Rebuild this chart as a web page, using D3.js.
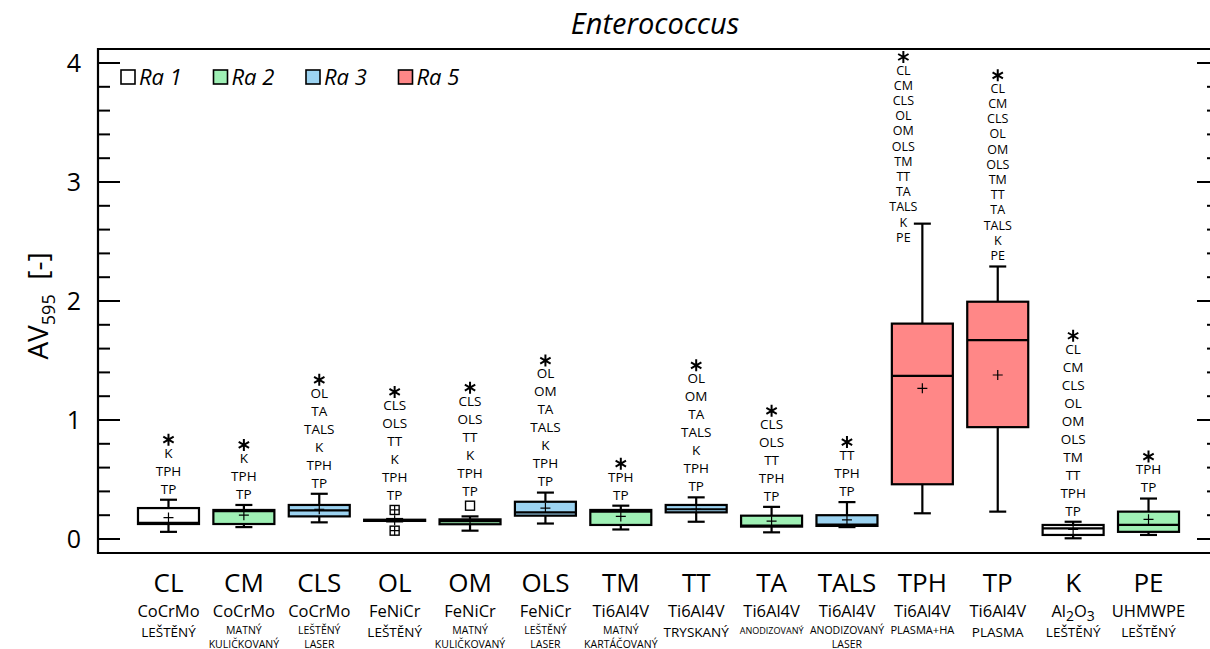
<!DOCTYPE html>
<html>
<head>
<meta charset="utf-8">
<script src="https://cdn.jsdelivr.net/npm/d3@7"></script>
<style>
  html, body { margin: 0; padding: 0; background: #fff; overflow: hidden; }
  svg { display: block; font-family: "Open Sans", "Noto Sans", sans-serif; }
</style>
</head>
<body>
<svg id="chart" width="1210" height="649"></svg>
<script>
// ---- data ----
const categories = ["CL", "CM", "CLS", "OL", "OM", "OLS", "TM", "TT", "TA", "TALS", "TPH", "TP", "K", "PE"];
const materials = ["CoCrMo", "CoCrMo", "CoCrMo", "FeNiCr", "FeNiCr", "FeNiCr", "Ti6Al4V", "Ti6Al4V",
                   "Ti6Al4V", "Ti6Al4V", "Ti6Al4V", "Ti6Al4V", "Al2O3", "UHMWPE"];
const finishes = [["LEŠTĚNÝ"], ["MATNÝ", "KULIČKOVANÝ"], ["LEŠTĚNÝ", "LASER"], ["LEŠTĚNÝ"],
                  ["MATNÝ", "KULIČKOVANÝ"], ["LEŠTĚNÝ", "LASER"], ["MATNÝ", "KARTÁČOVANÝ"], ["TRYSKANÝ"],
                  ["ANODIZOVANÝ"], ["ANODIZOVANÝ", "LASER"], ["PLASMA+HA"], ["PLASMA"], ["LEŠTĚNÝ"], ["LEŠTĚNÝ"]];
const roughness = ["Ra 1", "Ra 2", "Ra 3", "Ra 1", "Ra 2", "Ra 3", "Ra 2", "Ra 3", "Ra 2", "Ra 3", "Ra 5", "Ra 5", "Ra 1", "Ra 2"];

const whiskerLow  = [0.060, 0.100, 0.140, 0.148, 0.070, 0.130, 0.080, 0.145, 0.056, 0.100, 0.216, 0.230, 0.006, 0.034];
const q1          = [0.126, 0.126, 0.190, 0.152, 0.124, 0.196, 0.118, 0.224, 0.104, 0.110, 0.460, 0.940, 0.034, 0.060];
const median      = [0.135, 0.235, 0.240, 0.157, 0.150, 0.224, 0.230, 0.250, 0.112, 0.120, 1.370, 1.672, 0.090, 0.118];
const q3          = [0.260, 0.244, 0.286, 0.162, 0.165, 0.313, 0.244, 0.286, 0.196, 0.200, 1.810, 1.994, 0.118, 0.230];
const whiskerHigh = [0.330, 0.286, 0.380, 0.168, 0.190, 0.390, 0.280, 0.350, 0.270, 0.310, 2.650, 2.290, 0.145, 0.340];
const means       = [0.180, 0.200, 0.250, 0.157, 0.150, 0.260, 0.190, 0.250, 0.150, 0.160, 1.266, 1.378, 0.080, 0.165];
// single points drawn beyond the whiskers
const extremes = [[], [], [], [0.244, 0.070], [], [], [], [], [], [], [], [], [], []];
const outliers = [[], [], [], [], [0.280], [], [], [], [], [], [], [], [], []];

// groups that differ significantly from each surface
const differsFrom = [
  ["K", "TPH", "TP"],
  ["K", "TPH", "TP"],
  ["OL", "TA", "TALS", "K", "TPH", "TP"],
  ["CLS", "OLS", "TT", "K", "TPH", "TP"],
  ["CLS", "OLS", "TT", "K", "TPH", "TP"],
  ["OL", "OM", "TA", "TALS", "K", "TPH", "TP"],
  ["TPH", "TP"],
  ["OL", "OM", "TA", "TALS", "K", "TPH", "TP"],
  ["CLS", "OLS", "TT", "TPH", "TP"],
  ["TT", "TPH", "TP"],
  ["CL", "CM", "CLS", "OL", "OM", "OLS", "TM", "TT", "TA", "TALS", "K", "PE"],
  ["CL", "CM", "CLS", "OL", "OM", "OLS", "TM", "TT", "TA", "TALS", "K", "PE"],
  ["CL", "CM", "CLS", "OL", "OM", "OLS", "TM", "TT", "TPH", "TP"],
  ["TPH", "TP"]
];

const roughnessLevels = ["Ra 1", "Ra 2", "Ra 3", "Ra 5"];
const roughnessColors = ["#ffffff", "#9ff0b5", "#9cd3f1", "#ff8787"];
const yTicks = [0, 1, 2, 3, 4];

// ---- layout ----
const svg = d3.select("#chart");
const frame = { left: 98, right: 1219, top: 49, bottom: 553 };

const x = d3.scalePoint().domain(categories).range([frame.left, frame.right]).padding(0.935);
const y = d3.scaleLinear().domain([0, 4]).range([539, 63]);
const fill = d3.scaleOrdinal().domain(roughnessLevels).range(roughnessColors);

const boxW = 61, capW = 17;

// title
svg.append("text")
  .attr("x", 655).attr("y", 34)
  .attr("text-anchor", "middle")
  .attr("font-size", 29).attr("font-style", "italic")
  .text("Enterococcus");

// frame lines (right edge runs past the page)
svg.append("path")
  .attr("d", `M${frame.right},${frame.top}H${frame.left}V${frame.bottom}H${frame.right}`)
  .attr("fill", "none").attr("stroke", "#000").attr("stroke-width", 2.2);

// y axes: ticks pointing inward on both sides
const minorTicks = d3.range(0, 4.01, 0.2).filter(v => Math.abs(v - Math.round(v)) > 1e-6);
const leftAxis = svg.append("g").attr("transform", `translate(${frame.left},0)`);
leftAxis.selectAll("line.major").data(yTicks).join("line")
  .attr("x1", 0).attr("x2", 22).attr("y1", d => y(d)).attr("y2", d => y(d))
  .attr("stroke", "#000").attr("stroke-width", 2);
leftAxis.selectAll("line.minor").data(minorTicks).join("line")
  .attr("x1", 0).attr("x2", 12).attr("y1", d => y(d)).attr("y2", d => y(d))
  .attr("stroke", "#000").attr("stroke-width", 2);
leftAxis.selectAll("text").data(yTicks).join("text")
  .attr("x", -17).attr("y", d => y(d)).attr("dy", "0.36em")
  .attr("text-anchor", "end").attr("font-size", 25)
  .text(d3.format("d"));

const rightAxis = svg.append("g").attr("transform", `translate(${frame.right},0)`);
rightAxis.selectAll("line.major").data(yTicks).join("line")
  .attr("x1", 0).attr("x2", -22).attr("y1", d => y(d)).attr("y2", d => y(d))
  .attr("stroke", "#000").attr("stroke-width", 2);
rightAxis.selectAll("line.minor").data(minorTicks).join("line")
  .attr("x1", 0).attr("x2", -12).attr("y1", d => y(d)).attr("y2", d => y(d))
  .attr("stroke", "#000").attr("stroke-width", 2);

// y-axis title
const yTitle = svg.append("text")
  .attr("transform", "translate(48,306) rotate(-90)")
  .attr("text-anchor", "middle").attr("font-size", 28);
yTitle.append("tspan").text("AV");
yTitle.append("tspan").attr("font-size", 18).attr("dy", 7).text("595");
yTitle.append("tspan").attr("dy", -7).text("\u00a0\u00a0[-]");

// boxes
const items = categories.map((c, i) => ({
  c, i, lo: whiskerLow[i], q1: q1[i], med: median[i], q3: q3[i], hi: whiskerHigh[i], mean: means[i],
  ext: extremes[i], out: outliers[i], ra: roughness[i], diff: differsFrom[i]
}));

const g = svg.append("g");
const boxes = g.selectAll("g.box").data(items).join("g").attr("class", "box")
  .attr("transform", d => `translate(${x(d.c)},0)`);

function styl(sel) { return sel.attr("stroke", "#000").attr("stroke-width", 2.2); }

// whiskers
styl(boxes.append("line").attr("x1", 0).attr("x2", 0).attr("y1", d => y(d.hi)).attr("y2", d => y(d.q3)));
styl(boxes.append("line").attr("x1", 0).attr("x2", 0).attr("y1", d => y(d.q1)).attr("y2", d => y(d.lo)));
styl(boxes.append("line").attr("x1", -capW / 2).attr("x2", capW / 2).attr("y1", d => y(d.hi)).attr("y2", d => y(d.hi)));
styl(boxes.append("line").attr("x1", -capW / 2).attr("x2", capW / 2).attr("y1", d => y(d.lo)).attr("y2", d => y(d.lo)));
// box
styl(boxes.append("rect")
  .attr("x", -boxW / 2).attr("width", boxW)
  .attr("y", d => y(d.q3)).attr("height", d => Math.max(0.5, y(d.q1) - y(d.q3)))
  .attr("fill", d => fill(d.ra)));
// median
styl(boxes.append("line").attr("x1", -boxW / 2).attr("x2", boxW / 2)
  .attr("y1", d => y(d.med)).attr("y2", d => y(d.med)));
// mean marker
boxes.append("path")
  .attr("d", d => `M-5,${y(d.mean)}H5M0,${y(d.mean) - 5}V${y(d.mean) + 5}`)
  .attr("stroke", "#000").attr("stroke-width", 1.2).attr("fill", "none");

// extreme points (square with cross) and outliers (square)
boxes.each(function (d) {
  const sel = d3.select(this);
  d.ext.forEach(v => {
    sel.append("rect").attr("x", -4.5).attr("y", y(v) - 4.5).attr("width", 9).attr("height", 9)
      .attr("fill", "#fff").attr("stroke", "#000").attr("stroke-width", 1.4);
    sel.append("path").attr("d", `M-4.5,${y(v)}H4.5M0,${y(v) - 4.5}V${y(v) + 4.5}`)
      .attr("stroke", "#000").attr("stroke-width", 1.2);
  });
  d.out.forEach(v => {
    sel.append("rect").attr("x", -4.5).attr("y", y(v) - 4.5).attr("width", 9).attr("height", 9)
      .attr("fill", "#fff").attr("stroke", "#000").attr("stroke-width", 1.4);
  });
});

// significance stacks: asterisk with the list of differing groups
boxes.each(function (d) {
  const sel = d3.select(this);
  const points = d.ext.concat(d.out);
  const topVal = d3.max([d.hi].concat(points));
  const bottomLabel = points.some(v => v > d.hi) ? y(topVal) - 15 : y(topVal) - 11;
  const n = d.diff.length;
  const tight = n > 10;
  const gap = tight ? 15.2 : 18;
  let firstLabel = bottomLabel - (n - 1) * gap;
  let starY = firstLabel - 13;
  let shift = 0;
  if (starY < 57) {
    firstLabel += 57 - starY; starY = 57;
    // a stack pushed down onto its whisker is moved aside
    if (firstLabel + (n - 1) * gap > y(topVal) - 8) shift = -19;
  }
  const st = sel.append("g").attr("transform", `translate(${shift},0)`);
  st.selectAll("text.sig").data(d.diff).join("text").attr("class", "sig")
    .attr("x", 0).attr("y", (t, k) => firstLabel + k * gap).attr("dy", "0.36em")
    .attr("text-anchor", "middle").attr("font-size", tight ? 12.5 : 13.5).text(t => t);
  const r = 6;
  const a = Math.PI / 3;
  const dStar = [0, 1, 2].map(k => {
    const ang = Math.PI / 2 + k * a;
    const dx = r * Math.cos(ang), dy = r * Math.sin(ang);
    return `M${-dx},${starY - dy}L${dx},${starY + dy}`;
  }).join("");
  st.append("path").attr("d", dStar).attr("stroke", "#000").attr("stroke-width", 2).attr("fill", "none");
});

// category labels
const labels = svg.append("g").selectAll("g").data(items).join("g")
  .attr("transform", d => `translate(${x(d.c)},0)`);
labels.append("text").attr("y", 592).attr("text-anchor", "middle").attr("font-size", 26).text(d => d.c);
labels.append("text").attr("y", 617).attr("text-anchor", "middle").attr("font-size", 16.5)
  .each(function (d) {
    const t = d3.select(this);
    const m = materials[d.i];
    if (m === "Al2O3") {
      t.append("tspan").text("Al");
      t.append("tspan").attr("font-size", 14).attr("dy", 4).text("2");
      t.append("tspan").attr("dy", -4).text("O");
      t.append("tspan").attr("font-size", 14).attr("dy", 4).text("3");
    } else {
      t.text(m);
    }
  });
labels.each(function (d) {
  const sel = d3.select(this);
  const lines = finishes[d.i];
  if (lines.length === 1) {
    const t = sel.append("text").attr("y", 637).attr("text-anchor", "middle").attr("font-size", 13.5).text(lines[0]);
    const w = t.node().getComputedTextLength();
    if (w > 70) t.attr("font-size", 13.5 * 64 / w).attr("y", 634);
  } else {
    lines.forEach((s, k) => {
      sel.append("text").attr("y", 634 + k * 13.5).attr("text-anchor", "middle").attr("font-size", 10.5).text(s);
    });
  }
});

// legend
const legend = svg.append("g").selectAll("g").data(roughnessLevels).join("g")
  .attr("transform", (d, i) => `translate(${121 + i * 92.5},70)`);
legend.append("rect").attr("width", 14).attr("height", 14)
  .attr("fill", d => fill(d)).attr("stroke", "#000").attr("stroke-width", 1.6);
legend.append("text").attr("x", 18).attr("y", 15).attr("font-size", 22).attr("font-style", "italic").text(d => d);
</script>
</body>
</html>
